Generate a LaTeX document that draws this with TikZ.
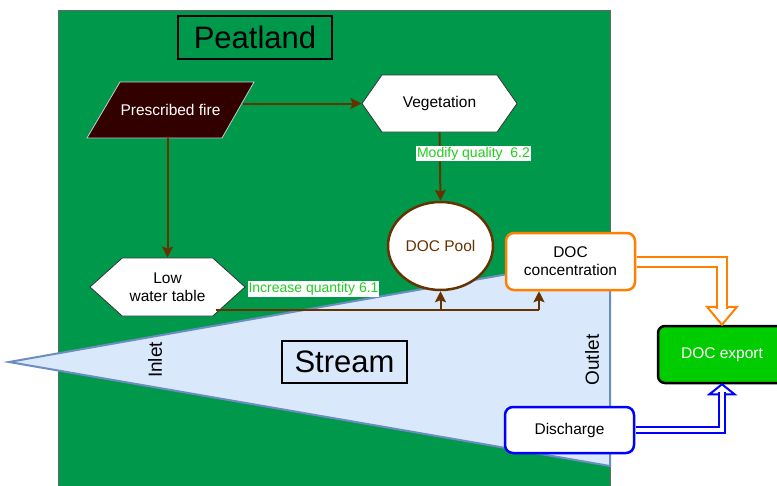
\documentclass[tikz,border=0pt]{standalone}
\usepackage{fontspec}
\setmainfont{Liberation Sans}
\usetikzlibrary{shapes.geometric,shapes.symbols,arrows.meta,calc}
\definecolor{peat}{HTML}{00994C}
\definecolor{firefill}{HTML}{330000}
\definecolor{brn}{HTML}{663300}
\definecolor{orng}{HTML}{FF8000}
\definecolor{blu}{HTML}{0000FF}
\definecolor{expgreen}{HTML}{00CC00}
\definecolor{lblgreen}{HTML}{22CC22}
\definecolor{streamfill}{HTML}{DAE8FC}
\definecolor{streamline}{HTML}{6C8EBF}
\begin{document}
\begin{tikzpicture}[x=1pt,y=-1pt,
  txt/.style={font=\fontsize{15.5}{18}\selectfont, align=center},
  titlebox/.style={draw=black, line width=2.5pt, font=\fontsize{31}{36}\selectfont, inner sep=0pt},
  hexa/.style={txt, signal, signal to=west and east, draw=black!80, line width=0.8pt, fill=white, inner sep=0pt},
  rbox/.style={txt, rectangle, rounded corners=8pt, line width=2.5pt, fill=white, inner sep=0pt},
  brline/.style={draw=brn, line width=2pt},
  brarrow/.style={brline, -{Stealth[length=11pt,width=11pt,inset=2pt]}},
  lbl/.style={fill=white, text=lblgreen, font=\fontsize{14}{16}\selectfont, inner sep=1pt},
  sidelbl/.style={rotate=90, font=\fontsize{19}{22}\selectfont}
]
\useasboundingbox (0,0) rectangle (777,485);
% peatland background
\fill[peat] (58,10) rectangle (610,495);
\draw[black!60, line width=1pt] (58,495) -- (58,10) -- (610,10) -- (610,495);
% stream
\filldraw[fill=streamfill, draw=streamline, line width=2pt] (9,362) -- (610,256) -- (610,466) -- cycle;

% titles
\node[titlebox, minimum width=154pt, minimum height=43pt] (peattitle) at (255,37.5) {Peatland};
\node[titlebox, minimum width=125pt, minimum height=42pt] (streamtitle) at (344.5,362) {Stream};
\node[sidelbl] (inlet) at (155,360) {Inlet};
\node[sidelbl] (outlet) at (592,360) {Outlet};

% prescribed fire (parallelogram)
\filldraw[fill=firefill, draw=black!20, line width=0.8pt] (120,82) -- (254,82) -- (222,138) -- (87,138) -- cycle;
\node[txt, text=white, minimum width=134pt, minimum height=56pt, inner sep=0pt] (fire) at (170.5,110) {Prescribed fire};

% nodes
\node[hexa, signal pointer angle=110, minimum width=155pt, minimum height=57pt] (veg) at (439.5,103.5) {Vegetation};
\node[hexa, signal pointer angle=84, minimum width=155pt, minimum height=58pt] (low) at (167.5,287) {Low\\water table};
\node[txt, ellipse, draw=brn, line width=2.5pt, fill=white, text=brn, minimum width=105pt, minimum height=88pt, inner sep=0pt]
      (pool) at (440.5,246) {DOC Pool};
\node[rbox, draw=orng, minimum width=129pt, minimum height=57pt] (conc) at (570.5,261.5) {DOC\\concentration};
\node[rbox, draw=blu, minimum width=129pt, minimum height=46pt] (dis) at (569.5,430) {Discharge};
\node[rbox, rounded corners=7pt, draw=black, fill=expgreen, text=white, minimum width=128pt, minimum height=57pt]
      (exp) at (722,354.5) {DOC export};

% brown connectors
\draw[brarrow, shorten <=5pt] (fire.east |- veg.west) -- (veg.west);
\draw[brarrow] (low.north |- fire.south) -- (low.north);
\draw[brarrow] (veg.south) -- (pool.north);
\coordinate (lowout) at (215.5,310);
\coordinate (j1) at (pool.south |- lowout);
\coordinate (j2) at (539,310);
\draw[brline] (lowout) -- (j2);
\draw[brarrow] (j1) -- (pool.south);
\draw[brarrow] (j2) -- (j2 |- conc.south);

% labels
\node[lbl] (l62) at (473.5,153.5) {Modify quality~~6.2};
\node[lbl] (l61) at (313.5,289) {Increase quantity 6.1};

% orange hollow arrow
\filldraw[orng, fill=white, line width=2pt] ($(exp.north)+(-15,-18)$) -- ($(exp.north)+(15,-18)$) -- (exp.north) -- cycle;
\coordinate (ohead) at ($(exp.north)+(0,-16)$);
\draw[orng, line width=2pt, double=white, double distance=8pt, shorten <=1.2pt] (conc.east) -| (ohead);
% blue hollow arrow
\filldraw[blu, fill=white, line width=2pt] ($(exp.south)+(-12.5,10)$) -- ($(exp.south)+(12.5,10)$) -- (exp.south) -- cycle;
\coordinate (bhead) at ($(exp.south)+(0,8)$);
\draw[blu, line width=2pt, double=white, double distance=4pt, shorten <=1.2pt] (dis.east) -| (bhead);
\end{tikzpicture}
\end{document}
